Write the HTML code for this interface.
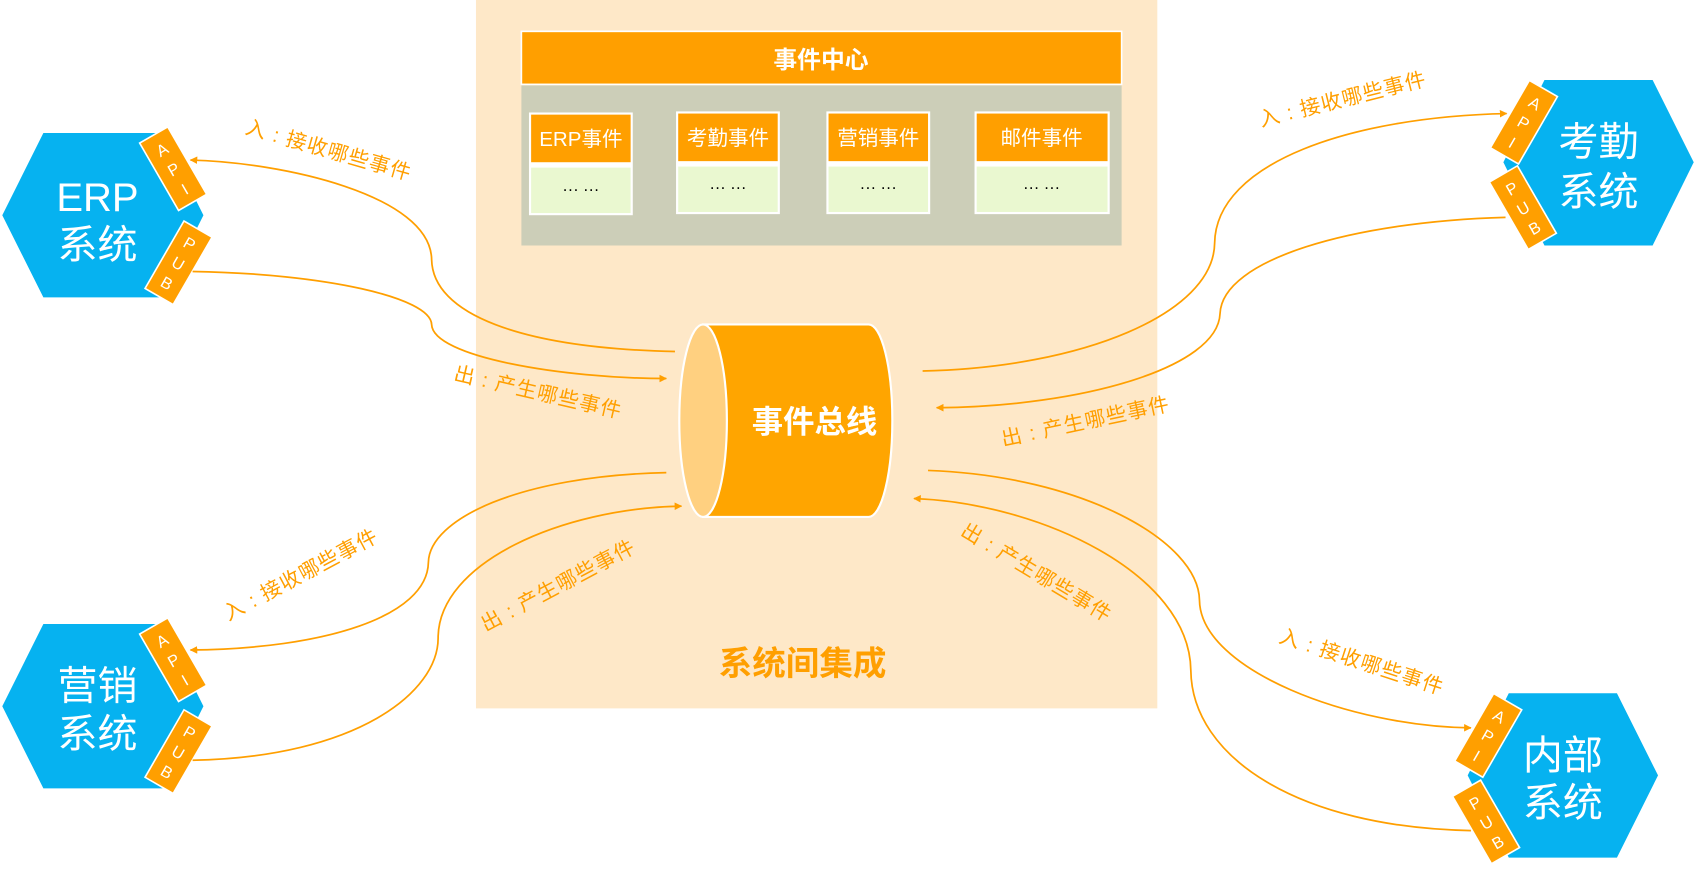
<!DOCTYPE html>
<html><head><meta charset="utf-8"><style>
html,body{margin:0;padding:0;background:#fff;width:1696px;height:876px;overflow:hidden}
svg{display:block}
text{font-family:"Liberation Sans","Noto Sans CJK SC",sans-serif}
</style></head><body>
<svg width="1696" height="876" viewBox="0 0 1568 810" xmlns="http://www.w3.org/2000/svg">
<defs>
<marker id="ar" viewBox="0 0 10 10" refX="9" refY="5" markerWidth="7" markerHeight="7" orient="auto" markerUnits="userSpaceOnUse"><path d="M0,0 L10,5 L0,10 z" fill="#FF9F00"/></marker>
</defs>
<rect x="440" y="0" width="630" height="655" fill="#FEE8C8"/>
<rect x="482" y="29" width="555" height="49" fill="#FF9F00" stroke="#fff" stroke-width="1.5"/>
<text x="759" y="63" font-size="22" font-weight="bold" fill="#fff" text-anchor="middle">事件中心</text>
<rect x="482" y="79" width="555" height="148" fill="#CCCEB8"/>
<g font-size="19" text-anchor="middle">
<rect x="489" y="104" width="96" height="95" fill="#fff"/><rect x="491" y="106" width="92" height="44" fill="#FF9F00"/><rect x="491" y="155" width="92" height="42" fill="#EAF8D0"/>
<text x="537" y="135" fill="#fff">ERP事件</text><text x="537" y="180" fill="#000" font-size="15">··· ···</text>
<rect x="625" y="103" width="96" height="95" fill="#fff"/><rect x="627" y="105" width="92" height="44" fill="#FF9F00"/><rect x="627" y="154" width="92" height="42" fill="#EAF8D0"/>
<text x="673" y="134" fill="#fff">考勤事件</text><text x="673" y="178" fill="#000" font-size="15">··· ···</text>
<rect x="764" y="103" width="96" height="95" fill="#fff"/><rect x="766" y="105" width="92" height="44" fill="#FF9F00"/><rect x="766" y="154" width="92" height="42" fill="#EAF8D0"/>
<text x="812" y="134" fill="#fff">营销事件</text><text x="812" y="178" fill="#000" font-size="15">··· ···</text>
<rect x="901" y="103" width="125" height="95" fill="#fff"/><rect x="903" y="105" width="121" height="44" fill="#FF9F00"/><rect x="903" y="154" width="121" height="42" fill="#EAF8D0"/>
<text x="963" y="134" fill="#fff">邮件事件</text><text x="963" y="178" fill="#000" font-size="15">··· ···</text>
</g>
<path d="M650,300 L803,300 A22,89 0 0 1 803,478 L650,478 Z" fill="#FFA500" stroke="#fff" stroke-width="2"/>
<ellipse cx="650" cy="389" rx="22" ry="89" fill="#FFD080" stroke="#fff" stroke-width="2"/>
<text x="753" y="400" font-size="29" font-weight="bold" fill="#fff" text-anchor="middle">事件总线</text>
<text x="742" y="624" font-size="31" font-weight="bold" fill="#FF9F00" text-anchor="middle">系统间集成</text>
<g fill="#06B2F0">
<polygon points="2,199 40,123 150,123 188,199 150,275 40,275"/>
<polygon points="2,653 40,577 150,577 188,653 150,729 40,729"/>
<polygon points="1390,150 1428,74 1528,74 1566,150 1528,227 1428,227"/>
<polygon points="1357,717 1395,641 1495,641 1533,717 1495,793 1395,793"/>
</g>
<g fill="#fff" font-size="37" text-anchor="middle">
<text x="90" y="195">ERP</text><text x="90" y="239">系统</text>
<text x="90" y="647">营销</text><text x="90" y="691">系统</text>
<text x="1478" y="144">考勤</text><text x="1478" y="190">系统</text>
<text x="1445" y="711">内部</text><text x="1445" y="755">系统</text>
</g>
<g fill="#fff" font-size="15" text-anchor="middle">
<g transform="translate(160,156) rotate(-30)"><rect x="-15" y="-36" width="30" height="72" fill="#FF9F00" stroke="#fff" stroke-width="1.5"/><text y="-15">A</text><text y="6">P</text><text y="27">I</text></g>
<g transform="translate(165,243) rotate(30)"><rect x="-15" y="-36" width="30" height="72" fill="#FF9F00" stroke="#fff" stroke-width="1.5"/><text y="-15">P</text><text y="6">U</text><text y="27">B</text></g>
<g transform="translate(160,610) rotate(-30)"><rect x="-15" y="-36" width="30" height="72" fill="#FF9F00" stroke="#fff" stroke-width="1.5"/><text y="-15">A</text><text y="6">P</text><text y="27">I</text></g>
<g transform="translate(165,695) rotate(30)"><rect x="-15" y="-36" width="30" height="72" fill="#FF9F00" stroke="#fff" stroke-width="1.5"/><text y="-15">P</text><text y="6">U</text><text y="27">B</text></g>
<g transform="translate(1409,113) rotate(30)"><rect x="-15" y="-36" width="30" height="72" fill="#FF9F00" stroke="#fff" stroke-width="1.5"/><text y="-15">A</text><text y="6">P</text><text y="27">I</text></g>
<g transform="translate(1408,192) rotate(-30)"><rect x="-15" y="-36" width="30" height="72" fill="#FF9F00" stroke="#fff" stroke-width="1.5"/><text y="-15">P</text><text y="6">U</text><text y="27">B</text></g>
<g transform="translate(1376,680) rotate(30)"><rect x="-15" y="-36" width="30" height="72" fill="#FF9F00" stroke="#fff" stroke-width="1.5"/><text y="-15">A</text><text y="6">P</text><text y="27">I</text></g>
<g transform="translate(1374,760) rotate(-30)"><rect x="-15" y="-36" width="30" height="72" fill="#FF9F00" stroke="#fff" stroke-width="1.5"/><text y="-15">P</text><text y="6">U</text><text y="27">B</text></g>
</g>
<g fill="none" stroke="#FF9F00" stroke-width="1.6">
<path d="M624,325 C480,322 400,290 399,240 C398,180 260,150 176,148" marker-end="url(#ar)"/>
<path d="M178,251 C300,253 398,275 399,300 C400,330 520,350 616,350" marker-end="url(#ar)"/>
<path d="M616,437 C480,440 397,480 396,520 C395,570 300,600 176,601" marker-end="url(#ar)"/>
<path d="M178,703 C330,700 405,640 405,590 C405,520 520,470 630,468" marker-end="url(#ar)"/>
<path d="M853,343 C1000,340 1122,290 1123,225 C1124,150 1250,108 1393,105" marker-end="url(#ar)"/>
<path d="M1392,201 C1250,205 1130,240 1128,290 C1126,340 1000,376 866,377" marker-end="url(#ar)"/>
<path d="M858,435 C1000,440 1108,500 1109,555 C1110,620 1250,672 1360,673" marker-end="url(#ar)"/>
<path d="M1360,768 C1200,765 1102,700 1101,620 C1100,530 960,465 845,461" marker-end="url(#ar)"/>
</g>
<g fill="#FF9F00" font-size="19" text-anchor="middle" letter-spacing="1">
<text transform="translate(302,145) rotate(16)">入 : 接收哪些事件</text>
<text transform="translate(496,369) rotate(13)">出 : 产生哪些事件</text>
<text transform="translate(281,537) rotate(-28)">入 : 接收哪些事件</text>
<text transform="translate(519,547) rotate(-28)">出 : 产生哪些事件</text>
<text transform="translate(1243,98) rotate(-14)">入 : 接收哪些事件</text>
<text transform="translate(1005,396) rotate(-12)">出 : 产生哪些事件</text>
<text transform="translate(1257,618) rotate(18)">入 : 接收哪些事件</text>
<text transform="translate(955,535) rotate(31)">出 : 产生哪些事件</text>
</g>
</svg>
</body></html>
